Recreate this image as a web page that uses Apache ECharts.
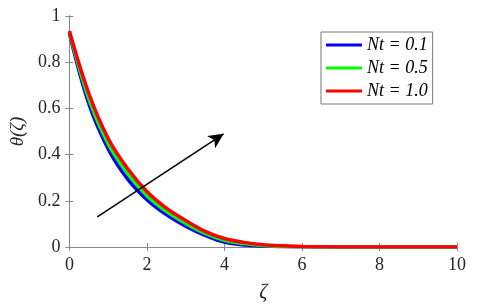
<!DOCTYPE html>
<html><head><meta charset="utf-8">
<script src="https://cdn.jsdelivr.net/npm/echarts/dist/echarts.min.js"></script>
<style>html,body{margin:0;padding:0;background:#fff}#c{width:480px;height:308px}</style>
</head><body><div id="c"></div>
<script>
const xValues = [0, 0.5, 1.0, 1.5, 2.0, 2.5, 3.0, 3.5, 4.0, 4.5, 5.0, 5.5, 6.0, 7.0, 8.0, 9.0, 10.0];
const nt01 = [0.925, 0.62, 0.425, 0.295, 0.205, 0.14, 0.09, 0.05, 0.021, 0.009, 0.004, 0.002, 0.001, 0, 0, 0, 0];
const nt05 = [0.93, 0.642, 0.447, 0.318, 0.222, 0.154, 0.102, 0.059, 0.029, 0.015, 0.007, 0.003, 0.001, 0, 0, 0, 0];
const nt10 = [0.935, 0.665, 0.47, 0.34, 0.24, 0.168, 0.115, 0.068, 0.037, 0.02, 0.01, 0.005, 0.002, 0.0005, 0, 0, 0];
const seriesNames = ['Nt = 0.1', 'Nt = 0.5', 'Nt = 1.0'];
const seriesColors = ['#0000ff', '#00ff00', '#ff0000'];
const arrowStart = [0.72, 0.13];
const arrowEnd = [3.98, 0.49];

const pair = ys => xValues.map((x, i) => [x, ys[i]]);
const serif = "'Liberation Serif', 'Times New Roman', serif";
const axisGray = '#888888';
const labelCol = '#262626';

const baseAxis = {
  type: 'value',
  axisLine: { show: true, lineStyle: { color: axisGray, width: 1 } },
  axisTick: { show: true, inside: true, length: 4, lineStyle: { color: axisGray } },
  splitLine: { show: false },
};

const chart = echarts.init(document.getElementById('c'), null, { renderer: 'canvas' });
const allData = [nt01, nt05, nt10];
chart.setOption({
  animation: false,
  backgroundColor: '#ffffff',
  grid: { left: 69, right: 23, top: 16, bottom: 60 },
  legend: {
    orient: 'vertical',
    left: 321, top: 32,
    padding: [4, 5, 4, 5],
    itemGap: 5,
    itemWidth: 36, itemHeight: 3,
    icon: 'rect',
    borderColor: '#777', borderWidth: 1,
    backgroundColor: '#fff',
    textStyle: { fontFamily: serif, fontStyle: 'italic', fontSize: 18, color: '#000' },
    data: seriesNames
  },
  xAxis: [
    Object.assign({}, baseAxis, {
      min: 0, max: 10, interval: 2,
      axisLabel: { color: labelCol, fontFamily: serif, fontSize: 18, margin: 9 },
      name: 'ζ', nameLocation: 'middle', nameGap: 36,
      nameTextStyle: { fontFamily: serif, fontStyle: 'italic', fontSize: 20, color: labelCol }
    }),
    Object.assign({}, baseAxis, {
      position: 'top', min: 0, max: 10, interval: 2,
      axisLabel: { show: false }
    })
  ],
  yAxis: [
    Object.assign({}, baseAxis, {
      min: 0, max: 1, interval: 0.2,
      axisLabel: { color: labelCol, fontFamily: serif, fontSize: 18, margin: 9 },
      name: 'θ(ζ)', nameLocation: 'middle', nameGap: 38, nameRotate: 90,
      nameTextStyle: { fontFamily: serif, fontStyle: 'italic', fontSize: 19, color: labelCol }
    }),
    Object.assign({}, baseAxis, {
      position: 'right', min: 0, max: 1, interval: 0.2,
      axisLabel: { show: false }
    })
  ],
  series: allData.map((d, i) => ({
    name: seriesNames[i],
    type: 'line',
    data: pair(d),
    smooth: 0.35,
    showSymbol: false,
    symbol: 'none',
    color: seriesColors[i],
    lineStyle: { color: seriesColors[i], width: 3.5 },
    z: 2 + i,
    markLine: i === 2 ? {
      silent: true,
      symbol: ['none', 'arrow'],
      symbolSize: [11, 15],
      label: { show: false },
      lineStyle: { color: '#000', width: 1.5, type: 'solid' },
      data: [[{ coord: arrowStart }, { coord: arrowEnd }]]
    } : undefined
  }))
});
</script></body></html>
